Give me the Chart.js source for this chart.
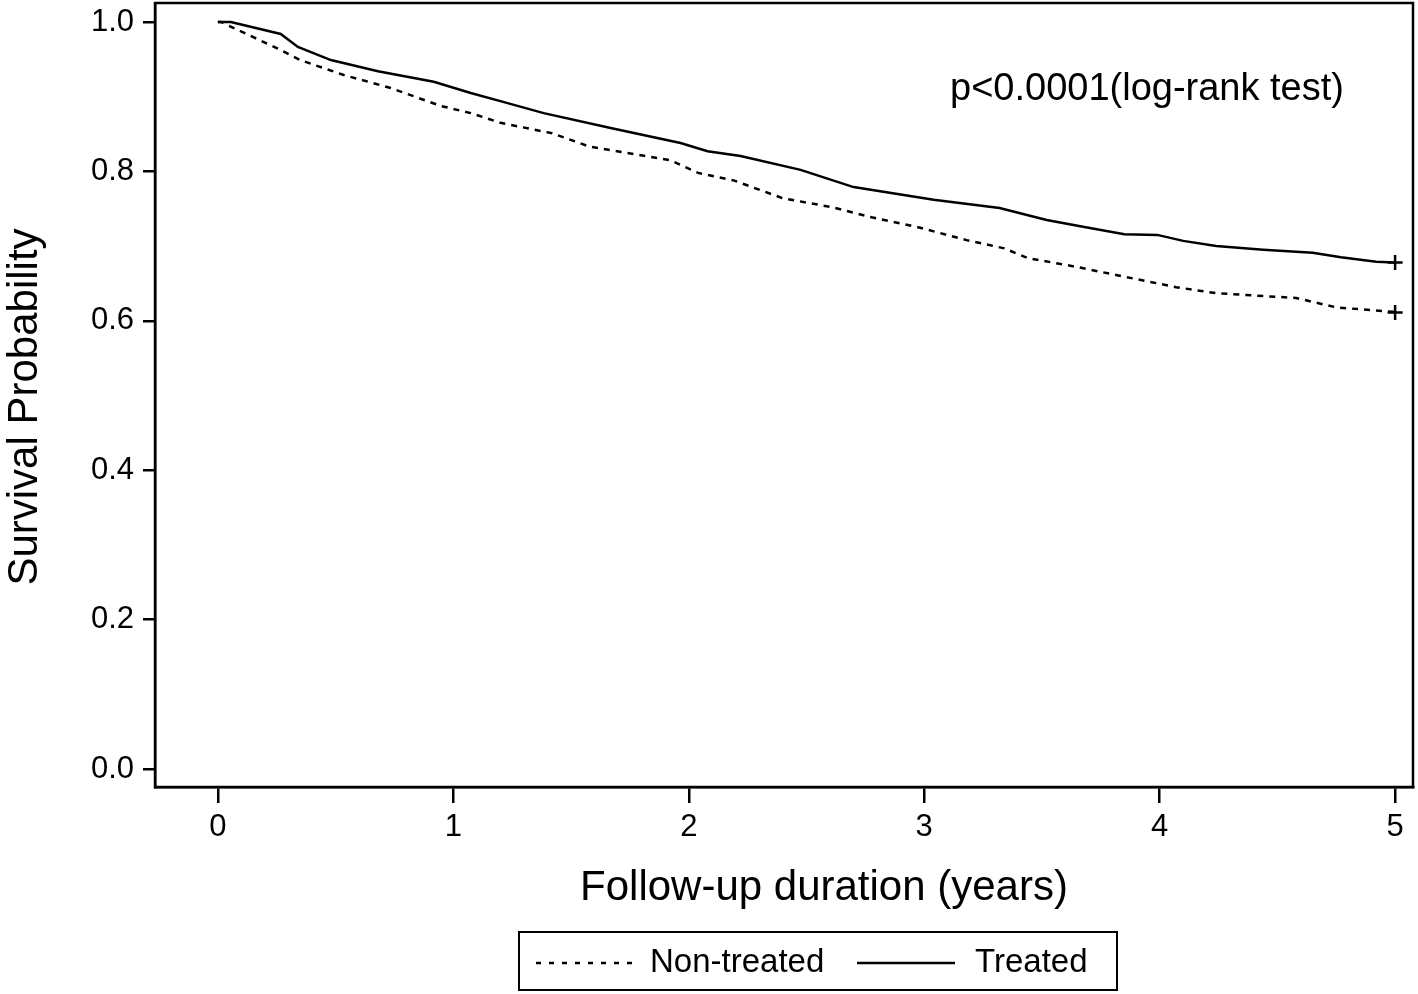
<!DOCTYPE html>
<html>
<head>
<meta charset="utf-8">
<script src="https://cdn.jsdelivr.net/npm/chart.js@4/dist/chart.umd.min.js"></script>
<style>
  body { margin: 0; background: #fff; }
  #wrap { width: 1418px; height: 994px; position: relative; }
</style>
</head>
<body>
<div id="wrap"><canvas id="kmChart"></canvas></div>
<script>
// Kaplan-Meier curves (years, survival probability)
const treatedTimes = [0, 0.055, 0.267, 0.34, 0.48, 0.68, 0.917, 1.074, 1.2, 1.384, 1.668, 1.965, 2.08, 2.22, 2.475, 2.7, 3.04, 3.32, 3.52, 3.68, 3.85, 3.99, 4.1, 4.24, 4.44, 4.65, 4.77, 4.92, 5.0];
const treatedSurv  = [1.0, 1.0, 0.984, 0.9665, 0.949, 0.934, 0.92, 0.905, 0.894, 0.878, 0.858, 0.838, 0.827, 0.8206, 0.802, 0.779, 0.762, 0.751, 0.735, 0.7256, 0.716, 0.715, 0.707, 0.7, 0.695, 0.691, 0.685, 0.679, 0.678];

const nonTreatedTimes = [0, 0.013, 0.267, 0.35, 0.535, 0.73, 0.947, 1.074, 1.2, 1.42, 1.58, 1.92, 2.04, 2.19, 2.4, 2.61, 2.77, 2.97, 3.18, 3.34, 3.44, 3.65, 3.82, 4.07, 4.24, 4.58, 4.75, 4.99, 5.0];
const nonTreatedSurv  = [1.0, 1.0, 0.9625, 0.949, 0.929, 0.912, 0.8876, 0.878, 0.865, 0.851, 0.833, 0.815, 0.798, 0.788, 0.764, 0.752, 0.739, 0.7256, 0.708, 0.697, 0.684, 0.672, 0.661, 0.645, 0.637, 0.6305, 0.618, 0.612, 0.611];

const xTicks = [0, 1, 2, 3, 4, 5];
const yTicks = [0.0, 0.2, 0.4, 0.6, 0.8, 1.0];
const seriesNames = ['Non-treated', 'Treated'];
const xTitle = 'Follow-up duration (years)';
const yTitle = 'Survival Probability';
const pValueText = 'p<0.0001(log-rank test)';

const FONT = "'Liberation Sans', Arial, sans-serif";

function toPoints(ts, vs) {
    return ts.map((t, i) => ({ x: t, y: vs[i] }));
}

// frame, axis titles, p-value note and boxed legend
const decorations = {
    id: 'decorations',
    afterDraw(chart) {
        const ctx = chart.ctx;
        const a = chart.chartArea;
        ctx.save();
        ctx.strokeStyle = '#000';
        ctx.lineWidth = 2.5;
        ctx.strokeRect(a.left, a.top, a.right - a.left, a.bottom - a.top);

        ctx.fillStyle = '#000';
        ctx.textBaseline = 'middle';
        ctx.textAlign = 'center';
        ctx.font = '42px ' + FONT;
        ctx.fillText(xTitle, 824, 888);

        ctx.save();
        ctx.translate(25, 407);
        ctx.rotate(-Math.PI / 2);
        ctx.font = '42px ' + FONT;
        ctx.fillText(yTitle, 0, 0);
        ctx.restore();

        ctx.textAlign = 'left';
        ctx.font = '38px ' + FONT;
        ctx.fillText(pValueText, 950, 90);

        // legend box
        ctx.lineWidth = 2;
        ctx.strokeRect(519, 932, 598, 58);
        ctx.lineWidth = 2.5;
        ctx.setLineDash([5, 8]);
        ctx.beginPath();
        ctx.moveTo(536, 963);
        ctx.lineTo(634, 963);
        ctx.stroke();
        ctx.setLineDash([]);
        ctx.beginPath();
        ctx.moveTo(857, 963);
        ctx.lineTo(955, 963);
        ctx.stroke();
        ctx.font = '33px ' + FONT;
        ctx.fillText(seriesNames[0], 650, 963);
        ctx.fillText(seriesNames[1], 975, 963);
        ctx.restore();
    }
};

new Chart(document.getElementById('kmChart').getContext('2d'), {
    type: 'line',
    data: {
        datasets: [{
            label: seriesNames[0],
            data: toPoints(nonTreatedTimes, nonTreatedSurv),
            borderColor: '#000',
            borderWidth: 2.5,
            borderDash: [6, 6],
            pointRadius: 0,
            fill: false,
            tension: 0
        }, {
            label: seriesNames[1],
            data: toPoints(treatedTimes, treatedSurv),
            borderColor: '#000',
            borderWidth: 2.5,
            pointRadius: 0,
            fill: false,
            tension: 0
        }, {
            label: 'censored',
            data: [
                { x: nonTreatedTimes[nonTreatedTimes.length - 1], y: nonTreatedSurv[nonTreatedSurv.length - 1] },
                { x: treatedTimes[treatedTimes.length - 1], y: treatedSurv[treatedSurv.length - 1] }
            ],
            showLine: false,
            pointStyle: 'cross',
            pointRadius: 7.5,
            pointBorderWidth: 2.5,
            pointBorderColor: '#000',
            pointBackgroundColor: '#000'
        }]
    },
    options: {
        responsive: true,
        maintainAspectRatio: false,
        animation: false,
        layout: { autoPadding: false, padding: { top: 3, right: 5, left: 0, bottom: 0 } },
        plugins: {
            legend: { display: false },
            tooltip: { enabled: false }
        },
        scales: {
            x: {
                type: 'linear',
                min: -0.267,
                max: 5.076,
                afterFit(scale) {
                    scale.height = 207;
                    scale.paddingLeft = 0;
                    scale.paddingRight = 0;
                },
                afterBuildTicks(scale) { scale.ticks = xTicks.map(v => ({ value: v })); },
                grid: { drawOnChartArea: false, drawTicks: true, tickLength: 16, color: '#000', lineWidth: 2.5 },
                border: { display: true, color: '#000', width: 2.5 },
                ticks: { color: '#000', font: { family: FONT, size: 31 }, padding: 6, maxRotation: 0 },
                title: { display: false }
            },
            y: {
                min: -0.024,
                max: 1.0254,
                afterFit(scale) {
                    scale.width = 155;
                    scale.paddingTop = 0;
                    scale.paddingBottom = 0;
                },
                afterBuildTicks(scale) { scale.ticks = yTicks.map(v => ({ value: v })); },
                grid: { drawOnChartArea: false, drawTicks: true, tickLength: 12, color: '#000', lineWidth: 2.5 },
                border: { display: true, color: '#000', width: 2.5 },
                ticks: {
                    color: '#000',
                    font: { family: FONT, size: 31 },
                    padding: 9,
                    callback: v => v.toFixed(1)
                },
                title: { display: false }
            }
        }
    },
    plugins: [decorations]
});
</script>
</body>
</html>
